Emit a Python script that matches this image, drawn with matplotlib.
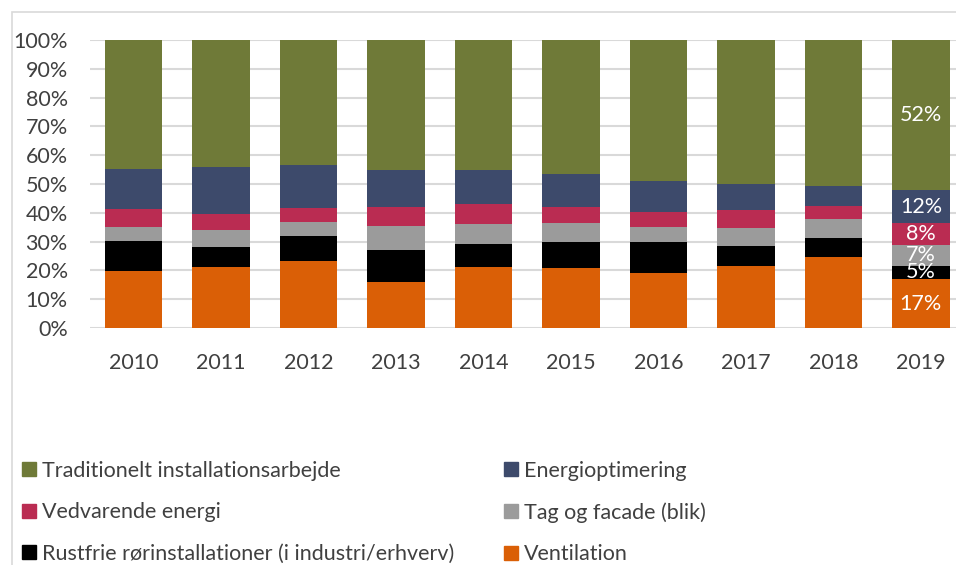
import matplotlib.pyplot as plt
import numpy as np
from matplotlib.patches import Rectangle
from matplotlib.lines import Line2D

years = ["2010", "2011", "2012", "2013", "2014", "2015", "2016", "2017", "2018", "2019"]

# share of revenue per segment (%), bottom to top
ventilation = [19.7, 21.1, 23.2, 16.1, 21.2, 20.7, 19.0, 21.6, 24.7, 17.0]
rustfri = [10.5, 6.9, 8.7, 10.9, 8.1, 9.2, 10.9, 7.0, 6.6, 4.6]
tag_facade = [5.0, 5.9, 4.9, 8.4, 6.8, 6.6, 5.3, 6.1, 6.4, 7.2]
vedvarende = [6.2, 5.6, 4.9, 6.7, 7.0, 5.6, 5.0, 6.2, 4.7, 7.5]
energi = [13.7, 16.3, 14.8, 12.9, 11.9, 11.5, 11.0, 9.1, 7.0, 11.6]
traditionelt = [44.9, 44.2, 43.5, 45.0, 45.0, 46.4, 48.8, 50.0, 50.6, 52.1]

labels_2019 = ["17%", "5%", "7%", "8%", "12%", "52%"]

series = [
    ("Ventilation", ventilation, "#DA5F06"),
    ("Rustfrie rørinstallationer (i industri/erhverv)", rustfri, "#000000"),
    ("Tag og facade (blik)", tag_facade, "#9B9B9B"),
    ("Vedvarende energi", vedvarende, "#BA2C52"),
    ("Energioptimering", energi, "#3D4A6B"),
    ("Traditionelt installationsarbejde", traditionelt, "#6F7A38"),
]

plt.rcParams['font.family'] = ['Lato', 'DejaVu Sans']
fs = 15.5

fig = plt.figure(figsize=(9.56, 5.65), dpi=100)
ax = fig.add_axes([0.094, 0.4195, 0.915, 0.5097])

x = np.arange(len(years))
bottom = np.zeros(len(years))
handles = {}
for name, vals, col in series:
    vals = np.array(vals)
    ax.bar(x, vals, 0.66, bottom=bottom, color=col, zorder=3)
    handles[name] = Line2D([], [], marker="s", linestyle="", markersize=10,
                           markerfacecolor=col, markeredgecolor=col)
    bottom += vals

# value labels on the last bar
bottom = np.zeros(len(years))
for (name, vals, col), lab in zip(series, labels_2019):
    ax.text(x[-1], bottom[-1] + vals[-1] / 2, lab, color="white",
            ha="center", va="center", fontsize=15.5, zorder=4)
    bottom += np.array(vals)

ax.set_ylim(0, 100)
ax.set_xlim(-0.5, len(years) - 0.5)
ax.set_yticks(np.arange(0, 101, 10))
ax.set_yticklabels([f"{v}%" for v in range(0, 101, 10)])
ax.set_xticks(x)
ax.set_xticklabels(years)
ax.tick_params(length=0, labelsize=fs, labelcolor="#404040")
ax.tick_params(axis="x", pad=18)
ax.tick_params(axis="y", pad=16)
ax.grid(axis="y", color="#d9d9d9", linewidth=1.5, zorder=0)
for s in ax.spines.values():
    s.set_visible(False)

# chart frame
fig.patches.append(Rectangle((12 / 956, -0.1), 1.1, 1 - 12 / 565 + 0.1,
                             transform=fig.transFigure, fill=False,
                             edgecolor="#d9d9d9", linewidth=1.2))

col1 = ["Traditionelt installationsarbejde", "Vedvarende energi",
        "Rustfrie rørinstallationer (i industri/erhverv)"]
col2 = ["Energioptimering", "Tag og facade (blik)", "Ventilation"]
for names, xpos in [(col1, 14 / 956), (col2, 496 / 956)]:
    leg = fig.legend([handles[n] for n in names], names, loc="upper left",
                     bbox_to_anchor=(xpos, 1 - 452 / 565), frameon=False,
                     fontsize=fs, labelcolor="#404040", handlelength=0.6,
                     handletextpad=0.3, labelspacing=1.0, borderaxespad=0)

fig.savefig("out.png", dpi=100)
